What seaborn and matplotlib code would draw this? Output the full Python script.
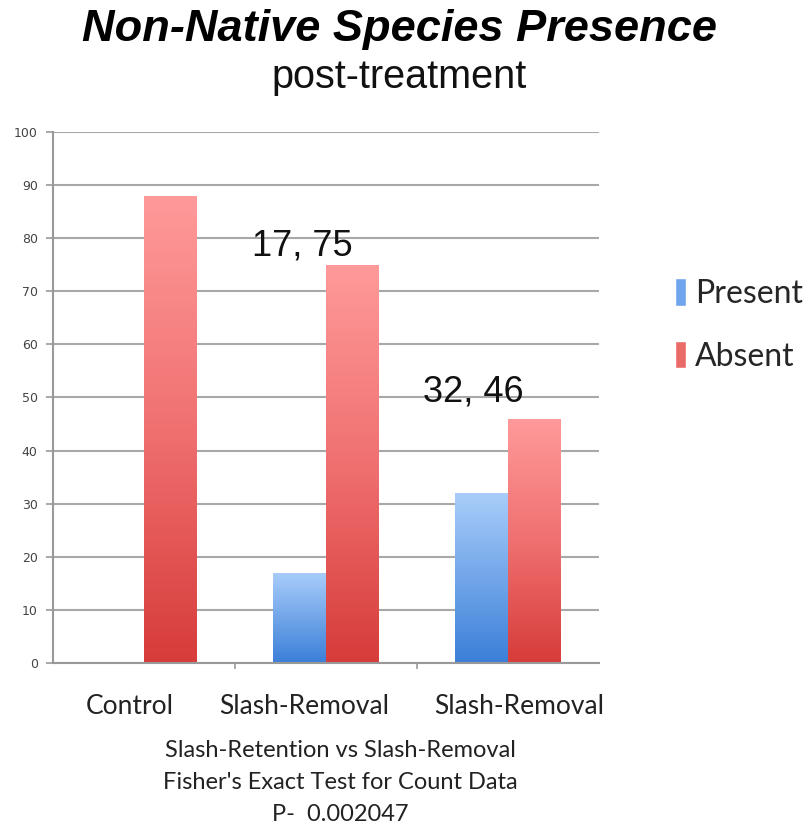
import numpy as np
import pandas as pd
import matplotlib
matplotlib.use("Agg")
import matplotlib.pyplot as plt
from matplotlib.colors import LinearSegmentedColormap
from matplotlib.patches import Rectangle
import seaborn as sns

# ---- data ----
group_labels = ["Control", "Slash-Removal", "Slash-Removal"]
present = [0, 17, 32]
absent = [88, 75, 46]
series = ["Present", "Absent"]
y_ticks = [0, 10, 20, 30, 40, 50, 60, 70, 80, 90, 100]
stats_lines = ["Slash-Retention vs Slash-Removal",
               "Fisher's Exact Test for Count Data",
               "P-  0.002047"]

df = pd.DataFrame({
    "group": list(range(len(group_labels))) * 2,
    "series": ["Present"] * len(present) + ["Absent"] * len(absent),
    "count": present + absent,
})

sns.set_theme(style="white")
plt.rcParams["font.family"] = ["Liberation Sans", "DejaVu Sans"]

fig = plt.figure(figsize=(8.10, 8.31), dpi=100)
ax = fig.add_axes([0.0654, 0.2022, 0.674, 0.639])

blue_mid = "#6fa5ec"
red_mid = "#ea6a68"
sns.barplot(data=df, x="group", y="count", hue="series", hue_order=series,
            palette={"Present": blue_mid, "Absent": red_mid},
            width=0.58, gap=0, dodge=True, legend=False, ax=ax,
            saturation=1, edgecolor="none", linewidth=0, zorder=3)

# vertical gradient fills for each bar
cmaps = {
    "Present": LinearSegmentedColormap.from_list("pres", ["#3b7fd8", "#a9cdfa"]),
    "Absent": LinearSegmentedColormap.from_list("abs", ["#d63c3a", "#f07070", "#ff9a9a"]),
}
grad = np.linspace(0, 1, 256).reshape(-1, 1)
n = len(group_labels)
for idx, patch in enumerate(list(ax.patches)):
    h = patch.get_height()
    if h <= 0:
        continue
    name = series[idx // n]
    x0 = patch.get_x()
    w = patch.get_width()
    im = ax.imshow(grad, cmap=cmaps[name], origin="lower", aspect="auto",
                   extent=(x0, x0 + w, 0, h), zorder=3, interpolation="bilinear")
    im.set_clip_path(patch)
    patch.set_facecolor("none")

ax.set_xlim(-0.5, 2.5)
ax.set_ylim(0, 100)
ax.set_yticks(y_ticks)
ax.set_yticklabels([str(t) for t in y_ticks], fontsize=9, color="#444444",
                   family="DejaVu Sans")
ax.yaxis.grid(True, color="#a8a8a8", linewidth=1.5, zorder=1)
ax.xaxis.grid(False)
ax.tick_params(axis="y", which="major", length=5, width=1.2, color="#999999",
               left=True, pad=6)

# category labels
ax.set_xticks([-0.077, 0.879, 2.06])
ax.set_xticklabels(group_labels, fontsize=19, color="#222222", family="Lato")
ax.tick_params(axis="x", which="major", length=0, pad=22)
ax.set_xticks([0.5, 1.5], minor=True)
ax.tick_params(axis="x", which="minor", length=4, width=1.2, color="#999999",
               bottom=True, direction="out")
ax.set_xlabel("")
ax.set_ylabel("")

for side in ["top", "right"]:
    ax.spines[side].set_visible(False)
for side in ["left", "bottom"]:
    ax.spines[side].set_color("#999999")
    ax.spines[side].set_linewidth(1.5)
    ax.spines[side].set_zorder(4)

# count annotations
label_pos = [(0.868, 76.8), (1.81, 49.2)]
for (lx, ly), i in zip(label_pos, [1, 2]):
    ax.text(lx, ly, f"{present[i]}, {absent[i]}", ha="center", va="baseline",
            fontsize=26, color="#111111", zorder=5)

# titles
fig.text(0.493, 0.964, "Non-Native Species Presence", ha="center", va="center",
         fontsize=32.5, fontweight="bold", fontstyle="italic", color="#000000")
fig.text(0.493, 0.907, "post-treatment", ha="center", va="center",
         fontsize=28.5, color="#111111")

# legend
handles = [Rectangle((0, 0), 1, 1, facecolor=blue_mid),
           Rectangle((0, 0), 1, 1, facecolor=red_mid)]
fig.legend(handles, series, loc="center left", bbox_to_anchor=(0.817, 0.609),
           frameon=False, prop={"family": "Lato", "size": 23},
           handlelength=0.35, handleheight=0.95, handletextpad=0.3,
           labelspacing=1.0, borderaxespad=0)

# statistics note
for k, line in enumerate(stats_lines):
    fig.text(0.42, 0.0965 - k * 0.0385, line, ha="center", va="center",
             fontsize=17, family="Lato", color="#222222")

fig.savefig("out.png", dpi=100)
